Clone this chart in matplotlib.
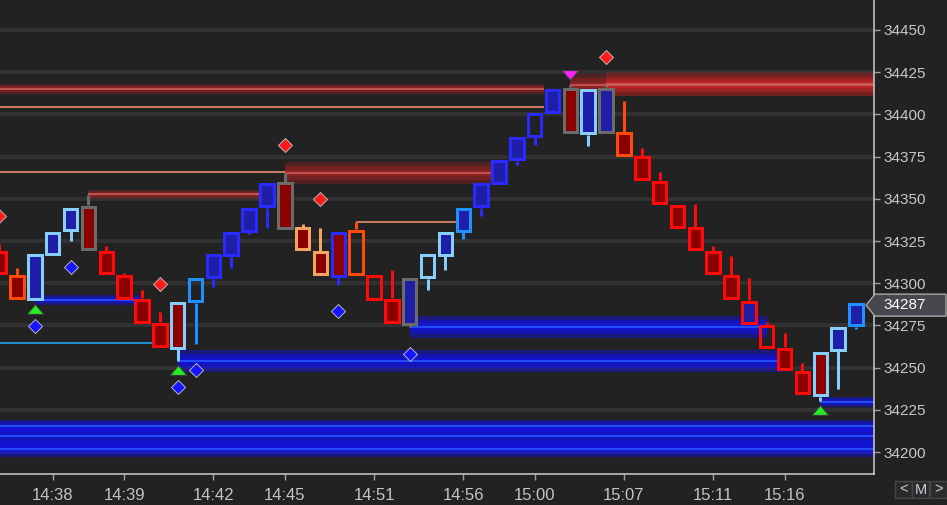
import matplotlib
matplotlib.use('Agg')
import matplotlib.pyplot as plt
from matplotlib.patches import Rectangle, Polygon
from matplotlib.transforms import IdentityTransform
from matplotlib.path import Path
from matplotlib import font_manager

# ---------------- data ----------------
opens = [34319.1, 34304.9, 34290.0, 34316.7, 34330.9, 34346.3, 34319.1, 34304.9, 34291.2, 34277.0,
         34288.9, 34288.3, 34302.5, 34316.1, 34330.3, 34344.6, 34360.0, 34333.3, 34319.1, 34330.9,
         34332.1, 34304.9, 34291.2, 34275.2, 34302.5, 34330.9, 34330.3, 34344.6, 34358.2, 34372.4,
         34386.6, 34400.8, 34416.2, 34387.8, 34388.4, 34389.6, 34375.4, 34361.1, 34346.9, 34333.3,
         34319.1, 34304.9, 34275.8, 34275.8, 34262.2, 34248.0, 34259.8, 34259.8, 34274.1]
closes = [34304.9, 34290.6, 34317.3, 34330.9, 34345.1, 34319.1, 34304.9, 34290.6, 34276.4, 34262.2,
          34261.0, 34303.1, 34317.3, 34330.9, 34345.1, 34359.4, 34332.1, 34319.1, 34304.3, 34303.1,
          34304.3, 34290.0, 34276.4, 34303.1, 34317.3, 34316.1, 34345.1, 34359.4, 34373.0, 34387.2,
          34401.4, 34415.6, 34388.4, 34415.6, 34416.2, 34374.8, 34361.1, 34346.9, 34332.7, 34319.1,
          34304.9, 34290.6, 34290.0, 34261.6, 34248.0, 34233.8, 34232.6, 34274.1, 34288.3]
highs = [34323.2, 34309.0, 34317.3, 34330.9, 34345.1, 34352.3, 34322.0, 34306.0, 34296.0, 34282.9,
         34288.9, 34303.1, 34317.3, 34330.9, 34345.1, 34359.4, 34365.3, 34335.1, 34332.7, 34330.9,
         34336.3, 34304.9, 34307.8, 34303.1, 34317.3, 34330.9, 34345.1, 34359.4, 34373.0, 34387.2,
         34401.4, 34415.6, 34417.4, 34415.6, 34417.4, 34407.9, 34380.1, 34365.9, 34346.9, 34346.9,
         34322.0, 34316.1, 34303.1, 34277.0, 34270.5, 34252.7, 34259.8, 34274.1, 34288.3]
lows = [34304.9, 34290.6, 34290.0, 34316.7, 34325.0, 34319.1, 34304.9, 34290.6, 34276.4, 34262.2,
        34253.9, 34264.0, 34297.8, 34309.0, 34329.1, 34332.7, 34332.1, 34319.1, 34304.3, 34298.9,
        34304.3, 34290.0, 34276.4, 34274.1, 34296.0, 34307.8, 34326.2, 34339.8, 34358.2, 34370.0,
        34381.9, 34400.8, 34388.4, 34381.3, 34388.4, 34374.8, 34361.1, 34346.9, 34332.7, 34319.1,
        34304.9, 34290.6, 34275.8, 34261.6, 34248.0, 34233.8, 34230.2, 34237.3, 34272.9]
# outline colour codes and body fill codes per bar
edge_codes = "ROLLLGRRRRLDBBBBGSSBORRGLLDBBBBBGLGORRRRRRRRRRLLD"
fill_codes = "ddbbbddddd" "dnbbbbdddd" "nndbnbbbbb" "nbdbbddddd" "ddbndddbb"

last_price = 34287
y_ticks = [34200, 34225, 34250, 34275, 34300, 34325, 34350, 34375, 34400, 34425, 34450]
x_tick_idx = [3, 7, 12, 16, 21, 26, 30, 35, 40, 44]
x_tick_labels = ["14:38", "14:39", "14:42", "14:45", "14:51", "14:56", "15:00", "15:07", "15:11", "15:16"]

# zones: (start bar, end bar, low, high)
red_zones = [(-1, 30.55, 34412.1, 34418.0),
             (32, 49.2, 34410.9, 34423.9),
             (34, 49.2, 34410.9, 34425.1),
             (16, 28, 34358.8, 34371.8),
             (5, 15, 34349.9, 34355.2)]
blue_zones = [(2, 7.9, 34287.1, 34293.0),
              (10, 44, 34247.4, 34260.4),
              (23, 43, 34267.5, 34280.6),
              (46, 49.2, 34226.7, 34232.6),
              (-1, 49.2, 34211.9, 34218.9),
              (-1, 49.2, 34203.6, 34215.4),
              (-1, 49.2, 34197.0, 34207.1)]
# level lines: (start bar, end bar, price)
salmon_lines = [(-1, 30.55, 34404.4), (-1, 16, 34365.9), (20, 26, 34336.3)]
cyan_lines = [(-1, 9, 34264.3)]

red_diamond_idx = [0, 9, 16, 18, 34]
red_diamond_price = [34339.8, 34299.5, 34381.9, 34349.9, 34434.0]
blue_diamond_idx = [2, 4, 10, 11, 19, 23]
blue_diamond_price = [34274.7, 34309.6, 34238.5, 34248.6, 34283.5, 34258.1]
up_tri_idx = [2, 10, 46]
up_tri_price = [34284.7, 34248.6, 34224.9]
down_tri_idx = [32]
down_tri_price = [34423.3]

# ---------------- style ----------------
BG = '#222222'
EDGE = {'R': '#ff0a0a', 'O': '#ff4a0a', 'L': '#87cefa', 'G': '#6b6b6b',
        'D': '#1e90ff', 'B': '#2a2aff', 'S': '#f4a460'}
FILL = {'d': '#8b0000', 'b': '#1e1ea6', 'n': 'none'}

names = {f.name for f in font_manager.fontManager.ttflist}
TICKFONT = 'Liberation Sans' if 'Liberation Sans' in names else 'DejaVu Sans'
NARROW = 'Liberation Sans Narrow' if 'Liberation Sans Narrow' in names else TICKFONT

W, H = 947, 505
fig = plt.figure(figsize=(W / 100, H / 100), dpi=100, facecolor=BG)
ax = fig.add_axes([0, 31 / H, 874 / W, 474 / H], facecolor=BG)
X0, X1 = 0.0476, 49.01
Y0, Y1 = 34186.97, 34467.77
ax.set_xlim(X0, X1)
ax.set_ylim(Y0, Y1)
dxpx = (X1 - X0) / 874.0
dypx = (Y1 - Y0) / 474.0
PT = 0.72  # points per pixel

# grid
for t in y_ticks:
    ax.axhline(t, color='#313131', lw=4 * PT, zorder=0.5)

def zone(i0, i1, lo, hi, color, alpha, fracs, line_color, line_alpha):
    mid = (lo + hi) / 2.0
    h = hi - lo
    for frac in fracs:
        ax.add_patch(Rectangle((i0, mid - h * frac / 2), i1 - i0, h * frac,
                               facecolor=color, alpha=alpha, lw=0, zorder=1))
    ax.hlines(mid, i0, i1, color=line_color, lw=1.4, alpha=line_alpha, zorder=1.2)

for z in red_zones:
    zone(*z, color='#d82424', alpha=0.26, fracs=(1.0, 0.6, 0.3),
         line_color='#d06464', line_alpha=0.75)
for z in blue_zones:
    zone(*z, color='#1010ff', alpha=0.42, fracs=(1.0, 0.6, 0.25),
         line_color='#2a60ff', line_alpha=0.8)

for s, e, p in salmon_lines:
    ax.hlines(p, s, e, color='#c87a5e', lw=2 * PT, zorder=1.5)
for s, e, p in cyan_lines:
    ax.hlines(p, s, e, color='#1f8fcf', lw=2 * PT, zorder=1.5)

# candles
half_w = 6.75 * dxpx
inset = 1.5 * dypx
for i in range(len(opens)):
    ec = EDGE[edge_codes[i]]
    fc = FILL[fill_codes[i]]
    top = max(opens[i], closes[i])
    bot = min(opens[i], closes[i])
    if highs[i] > top:
        ax.vlines(i, top, highs[i], color=ec, lw=3 * PT, zorder=2)
    if lows[i] < bot:
        ax.vlines(i, lows[i], bot, color=ec, lw=3 * PT, zorder=2)
    r = Rectangle((i - half_w, bot + inset), 2 * half_w, (top - bot) - 2 * inset,
                  facecolor=fc, edgecolor=ec, lw=3 * PT, joinstyle='miter',
                  fill=(fc != 'none'), zorder=3)
    ax.add_patch(r)

# markers
diamond = Path([(0, 1), (1, 0), (0, -1), (-1, 0), (0, 1)])
up_tri = Path([(-1, -0.58), (1, -0.58), (0, 0.58), (-1, -0.58)])
down_tri = Path([(-1, 0.58), (1, 0.58), (0, -0.58), (-1, 0.58)])
ax.plot(red_diamond_idx, red_diamond_price, ls='none', marker=diamond, ms=14 * PT,
        mfc='#ff1a1a', mec='#b8b8b8', mew=0.7, zorder=5)
ax.plot(blue_diamond_idx, blue_diamond_price, ls='none', marker=diamond, ms=14 * PT,
        mfc='#1414ff', mec='#b8b8b8', mew=0.7, zorder=5)
ax.plot(up_tri_idx, up_tri_price, ls='none', marker=up_tri, ms=17 * PT,
        mfc='#22ee22', mec='#3a3a3a', mew=0.8, zorder=5)
ax.plot(down_tri_idx, down_tri_price, ls='none', marker=down_tri, ms=17 * PT,
        mfc='#ff22ff', mec='#3a3a3a', mew=0.8, zorder=5)

# axes
for s in ('top', 'left'):
    ax.spines[s].set_visible(False)
for s in ('right', 'bottom'):
    ax.spines[s].set_color('#c0c0c0')
    ax.spines[s].set_linewidth(1.2)
ax.yaxis.tick_right()
ax.set_yticks(y_ticks)
ax.set_yticklabels([str(t) for t in y_ticks])
ax.tick_params(axis='y', length=4.5, width=1, color='#a0a0a0', labelcolor='#c8c8c8',
               labelsize=11, pad=2.2)
ax.set_xticks(x_tick_idx)
ax.set_xticklabels(x_tick_labels)
ax.tick_params(axis='x', length=4.5, width=1, color='#a0a0a0', labelcolor='#c4c4c4',
               labelsize=12, pad=5.5)
for lab in ax.get_yticklabels():
    lab.set_fontfamily(TICKFONT)
for lab in ax.get_xticklabels():
    lab.set_fontfamily(NARROW)

# current price tag
fig.canvas.draw()
yp = ax.transData.transform((X0, last_price))[1]
tag = Polygon([(866, yp), (875, yp + 11), (946, yp + 11), (946, yp - 11), (875, yp - 11)],
              closed=True, facecolor='#47474d', edgecolor='#a8a8a8', lw=1.0,
              transform=IdentityTransform(), zorder=10)
fig.add_artist(tag)
fig.text(883 / W, yp / H, str(last_price), color='white', fontsize=11, family=TICKFONT,
         va='center', ha='left', zorder=11)

# navigation buttons
for j, ch in enumerate(['<', 'M', '>']):
    x0 = 895 + j * 17.3
    b = Rectangle((x0, 7), 17, 17, facecolor='#2b2b2b', edgecolor='#454545', lw=1,
                  transform=IdentityTransform(), zorder=10)
    fig.add_artist(b)
    fig.text((x0 + 8.5) / W, 15.5 / H, ch, color='#c8d0dc', fontsize=10.5, family=NARROW,
             ha='center', va='center', zorder=11)

fig.savefig('out.png', dpi=100, facecolor=BG)
